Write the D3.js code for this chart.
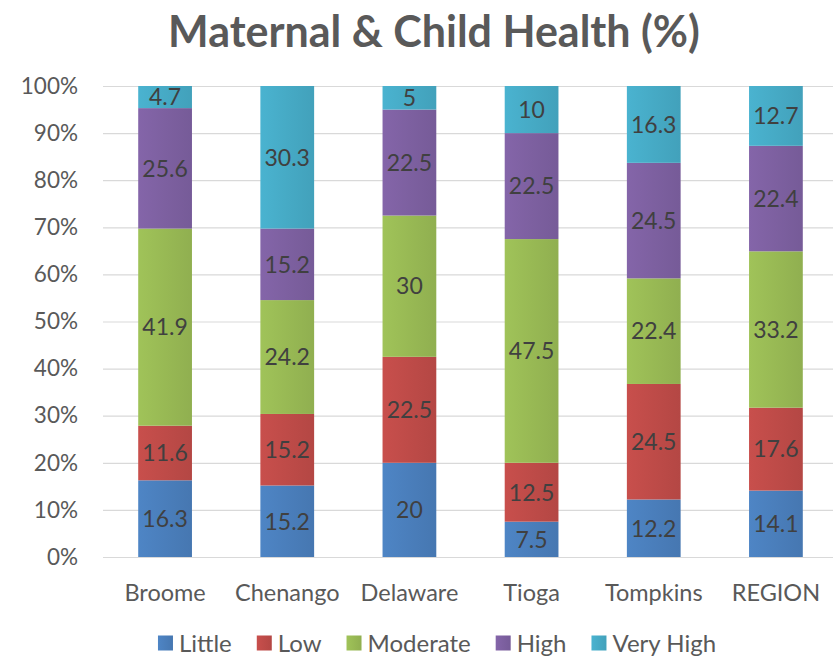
<!DOCTYPE html>
<html>
<head>
<meta charset="utf-8">
<script src="https://cdn.jsdelivr.net/npm/d3@7"></script>
<style>
  body { margin: 0; background: #fff; }
  text { font-family: Lato, "Open Sans", sans-serif; }
</style>
</head>
<body>
<svg id="chart"></svg>
<script>
const width = 833;
const height = 657;

const counties = ['Broome', 'Chenango', 'Delaware', 'Tioga', 'Tompkins', 'REGION'];
const levels = ['Little', 'Low', 'Moderate', 'High', 'Very High'];
const little   = [16.3, 15.2, 20, 7.5, 12.2, 14.1];
const low      = [11.6, 15.2, 22.5, 12.5, 24.5, 17.6];
const moderate = [41.9, 24.2, 30, 47.5, 22.4, 33.2];
const high     = [25.6, 15.2, 22.5, 22.5, 24.5, 22.4];
const veryHigh = [4.7, 30.3, 5, 10, 16.3, 12.7];
const yTicks = [0, 0.1, 0.2, 0.3, 0.4, 0.5, 0.6, 0.7, 0.8, 0.9, 1];

const colors = ['#4a7ebb', '#be4b48', '#98b954', '#7d60a0', '#46aac5'];
const series = [little, low, moderate, high, veryHigh];

const svg = d3.select('#chart').attr('width', width).attr('height', height);

// build table rows for the 100% stack
const rows = counties.map((c, i) => {
    const row = {county: c};
    const total = d3.sum(series, s => s[i]);
    levels.forEach((l, j) => { row[l] = series[j][i] / total; row[l + '_raw'] = series[j][i]; });
    return row;
});
const stacked = d3.stack().keys(levels)(rows);

const x = d3.scaleBand().domain(counties).range([104, 837]).paddingInner(0.56).paddingOuter(0.28);
const y = d3.scaleLinear().domain([0, 1]).range([557, 86]);

// gradients
const defs = svg.append('defs');
colors.forEach((c, i) => {
    const g = defs.append('linearGradient').attr('id', 'grad' + i)
        .attr('x1', '0%').attr('x2', '100%').attr('y1', '0%').attr('y2', '0%');
    const base = d3.color(c);
    g.append('stop').attr('offset', '0%').attr('stop-color', base.brighter(0.15));
    g.append('stop').attr('offset', '50%').attr('stop-color', c);
    g.append('stop').attr('offset', '100%').attr('stop-color', base.darker(0.15));
});

// title
svg.append('text')
    .attr('x', 434).attr('y', 47)
    .attr('text-anchor', 'middle')
    .attr('font-size', 43).attr('font-weight', 'bold')
    .attr('fill', '#595959')
    .text('Maternal & Child Health (%)');

// y axis with gridlines
const yAxis = svg.append('g').attr('transform', 'translate(103,0)')
    .call(d3.axisLeft(y).tickValues(yTicks).tickFormat(d3.format('.0%')).tickSize(-730).tickPadding(25));
yAxis.select('.domain').remove();
yAxis.selectAll('.tick line').attr('stroke', '#d9d9d9').attr('stroke-width', 1.2);
yAxis.selectAll('.tick text').attr('font-size', 22.5).attr('fill', '#595959')
    .attr('font-family', 'Lato, "Open Sans", sans-serif');

// x axis labels
const xAxis = svg.append('g').attr('transform', 'translate(0,557)')
    .call(d3.axisBottom(x).tickSize(0).tickPadding(27));
xAxis.select('.domain').remove();
xAxis.selectAll('.tick text').attr('font-size', 23.5).attr('fill', '#595959')
    .attr('font-family', 'Lato, "Open Sans", sans-serif');

// bars
const layer = svg.append('g').selectAll('g').data(stacked).join('g')
    .attr('fill', (d, i) => `url(#grad${i})`);
layer.selectAll('rect').data(d => d).join('rect')
    .attr('x', d => x(d.data.county))
    .attr('width', x.bandwidth())
    .attr('y', d => y(d[1]))
    .attr('height', d => y(d[0]) - y(d[1]));

// data labels
const labels = svg.append('g');
stacked.forEach(s => {
    labels.selectAll(null).data(s).join('text')
        .attr('x', d => x(d.data.county) + x.bandwidth() / 2)
        .attr('y', d => (y(d[0]) + y(d[1])) / 2)
        .attr('dy', '0.36em')
        .attr('text-anchor', 'middle')
        .attr('font-size', 23)
        .attr('fill', '#404040')
        .text(d => d.data[s.key + '_raw']);
});

// legend
const legend = svg.append('g');
let lx = 0;
const items = legend.selectAll('g').data(levels).join('g');
items.append('rect').attr('y', -7.5).attr('width', 15).attr('height', 15)
    .attr('fill', (d, i) => `url(#grad${i})`);
items.append('text').attr('x', 21).attr('dy', '0.36em')
    .attr('font-size', 24).attr('fill', '#595959').text(d => d);
items.each(function() {
    d3.select(this).attr('transform', `translate(${lx},0)`);
    lx += 21 + this.querySelector('text').getComputedTextLength() + 25;
});
lx -= 25;
legend.attr('transform', `translate(${(156 + 718) / 2 - lx / 2},643)`);
</script>
</body>
</html>
